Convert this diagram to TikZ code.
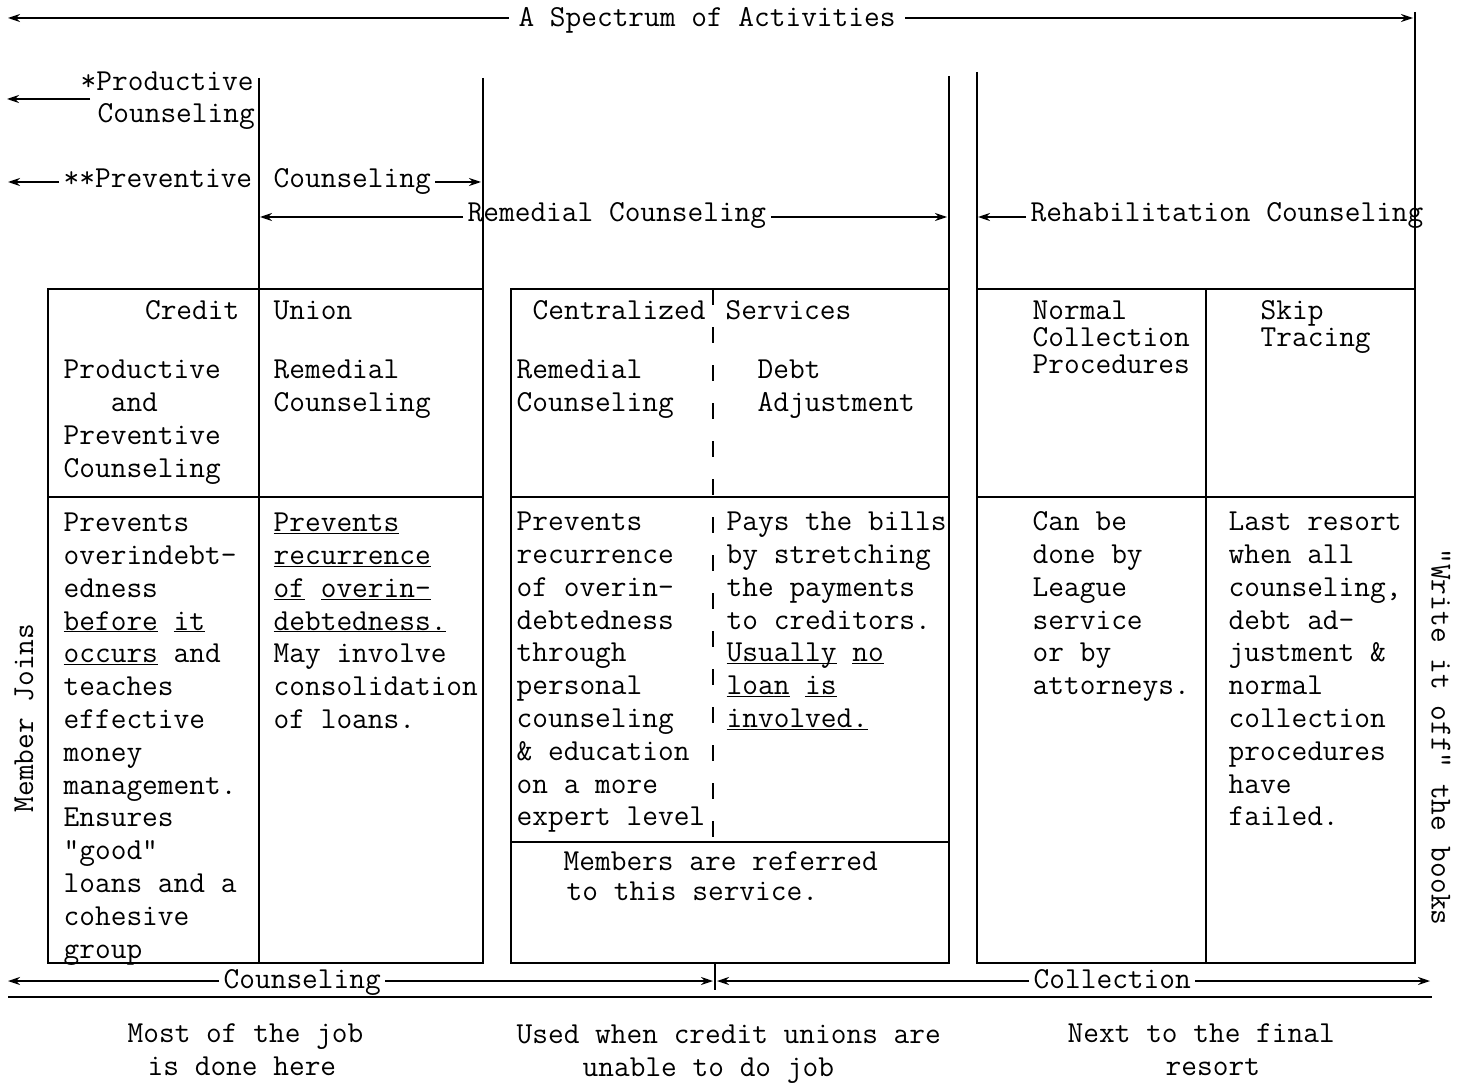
\documentclass[tikz,border=0pt]{standalone}
\usepackage{fontspec}
\usetikzlibrary{arrows.meta}
\newcommand\twf{\ttfamily\fontsize{30.5pt}{32.8pt}\selectfont}
\newcommand\twg{\ttfamily\fontsize{30.5pt}{27pt}\selectfont}
\newcommand\twh{\ttfamily\fontsize{30.5pt}{30pt}\selectfont}
\newcommand\myul[1]{\underline{\smash{#1}}}
\newcommand\F{\rule{0pt}{25pt}}
\begin{document}
\begin{tikzpicture}[x=1pt,y=-1pt, line width=1.4pt,
  arr/.style={-{Stealth[length=12pt,width=8pt,inset=4pt]}},
  txt/.style={font=\twf, inner sep=0pt, anchor=base west},
  blk/.style={font=\twf, inner sep=0pt, anchor=north west, yshift=25pt, align=left},
  lbl/.style={font=\twf, inner xsep=4pt, inner ysep=0pt, anchor=base west},
]
\useasboundingbox (0,0) rectangle (1466,1083);

% ---- top spectrum arrow
\node[lbl, anchor=base, inner xsep=9pt] (spec) at (707,27) {A Spectrum of Activities};
\coordinate (specL) at (8,18);
\coordinate (specR) at (1413,18);
\draw[arr] (spec.west |- specL) -- (specL);
\draw[arr] (spec.east |- specR) -- (specR);

% ---- productive counseling
\node[txt] (prodA) at (80,91) {*Productive};
\node[txt] (prodB) at (97,123) {Counseling};
\coordinate (prodL) at (7,99);
\draw[arr] ([xshift=-7pt]prodB.west |- prodL) -- (prodL);

% ---- preventive counseling
\node[lbl] (prevA) at (59,188) {**Preventive};
\node[lbl] (prevB) at (269,188) {Counseling};
\coordinate (prevL) at (8,182);
\coordinate (prevR) at (481,182);
\draw[arr] (prevA.west |- prevL) -- (prevL);
\draw[arr] (prevB.east |- prevR) -- (prevR);

% ---- remedial counseling
\node[lbl] (remA) at (463,222) {Remedial Counseling};
\coordinate (remL) at (260,217);
\coordinate (remR) at (947,217);
\draw[arr] (remA.west |- remL) -- (remL);
\draw[arr] (remA.east |- remR) -- (remR);

% ---- rehabilitation counseling
\node[lbl] (rehA) at (1026,222) {Rehabilitation Counseling};
\coordinate (rehL) at (978,217);
\draw[arr] (rehA.west |- rehL) -- (rehL);

% ---- vertical rules
\draw (259,78) -- (259,963);
\draw (483,78) -- (483,963);
\draw (949,76) -- (949,963);
\draw (977,72) -- (977,963);
\draw (1415,12) -- (1415,963);

% ---- boxes
\draw (48,289) rectangle (483,963);
\draw (48,497) -- (483,497);
\draw (511,289) rectangle (949,963);
\draw (511,497) -- (949,497);
\draw (511,842) -- (949,842);
\draw[dash pattern=on 16pt off 22pt] (713,289) -- (713,842);
\draw (977,289) rectangle (1415,963);
\draw (977,497) -- (1415,497);
\draw (1206,289) -- (1206,963);

% ---- credit union texts
\node[txt, anchor=base east] (credit) at (240,319) {Credit};
\node[txt] (union) at (273,319) {Union};
\node[blk] (ppc) at (63,378) {\F Productive\\~~~and\\Preventive\\Counseling};
\node[blk] (remc) at (273,378) {\F Remedial\\Counseling};
\node[blk] (ppcd) at (63,531) {\F Prevents\\overindebt-\\edness\\\myul{before} \myul{it}\\\myul{occurs} and\\teaches\\effective\\money\\management.\\Ensures\\"good"\\loans and a\\cohesive\\group};
\node[blk] (remcd) at (273,531) {\F\myul{Prevents}\\\myul{recurrence}\\\myul{of} \myul{overin-}\\\myul{debtedness.}\\May involve\\consolidation\\of loans.};

% ---- centralized services texts
\node[txt] (centr) at (532,319) {Centralized};
\node[txt] (serv) at (725,319) {Services};
\node[blk] (remc2) at (516,378) {\F Remedial\\Counseling};
\node[blk] (debt) at (757,378) {\F Debt\\Adjustment};
\node[blk] (remc2d) at (516,530) {\F Prevents\\recurrence\\of overin-\\debtedness\\through\\personal\\counseling\\\& education\\on a more\\expert level};
\node[blk] (debtd) at (726,530) {\F Pays the bills\\by stretching\\the payments\\to creditors.\\\myul{Usually} \myul{no}\\\myul{loan} \myul{is}\\\myul{involved.}};
\node[blk, font=\twh] (refer) at (563,870) {\F Members are referred\\\hspace*{3pt}to this service.};

% ---- collection texts
\node[blk, font=\twg] (ncp) at (1032,319) {\F Normal\\Collection\\Procedures};
\node[blk, font=\twg] (skip) at (1260,319) {\F Skip\\Tracing};
\node[blk] (ncpd) at (1032,530) {\F Can be\\done by\\League\\service\\or by\\attorneys.};
\node[blk] (skipd) at (1228,530) {\F Last resort\\when all\\counseling,\\debt ad-\\justment \&\\normal\\collection\\procedures\\have\\failed.};

% ---- rotated side labels
\node[font=\twf, rotate=90, inner sep=0pt] (mj) at (24,718) {Member Joins};
\node[font=\twf, rotate=-90, inner sep=0pt] (wio) at (1441,737) {"Write it off" the books};

% ---- bottom arrows
\node[lbl] (cnsl) at (219,988) {Counseling};
\node[lbl] (coll) at (1029,988) {Collection};
\coordinate (cL) at (8,981);
\coordinate (midL) at (713,981);
\coordinate (midR) at (717,981);
\coordinate (cR) at (1430,981);
\draw[arr] (cnsl.west |- cL) -- (cL);
\draw[arr] (cnsl.east |- cL) -- (midL);
\draw[arr] (coll.west |- cR) -- (midR);
\draw[arr] (coll.east |- cR) -- (cR);
\draw (715,963) -- (715,990);
\draw (8,997) -- (1432,997);

% ---- bottom notes
\node[blk] (n1) at (127,1042) {\F Most of the job\\\hspace*{20pt}is done here};
\node[blk] (n2) at (516,1043) {\F Used when credit unions are\\\hspace*{66pt}unable to do job};
\node[blk] (n3) at (1067,1042) {\F Next to the final\\\hspace*{98pt}resort};
\end{tikzpicture}
\end{document}
